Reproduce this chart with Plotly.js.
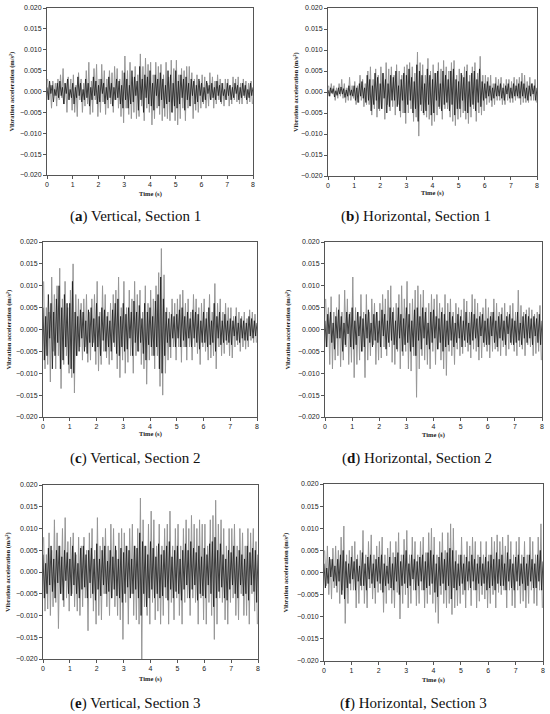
<!DOCTYPE html>
<html>
<head>
<meta charset="utf-8">
<script src="https://cdn.plot.ly/plotly-3.0.1.min.js"></script>
<style>
	body{margin:0;padding:0;background:#fff;}
	#myDiv{width:550px;height:714px;}
</style>
</head>
<body>
<div id="myDiv"></div>
<script>
// values, in 10^-3 m/s^2
// black = dense core, one value every 0.05 s from 0 s
// gray = outer peaks, one value every 0.05 s from 0.025 s
var blackA=[1,-2,2.5,-0.5,1.5,-2.5,0.5,-1,2,-1.5, 2.5,-1,1,-3,2,-0.5,3,-2,0.5,-1.5, 2,-3,1,-1.5,3.5,-1,2,-2.5,0.5,-2, 3,-1.5,2,-3.5,1,-2,3.5,-1,2.5,-3,
	1.5,-2.5,3,-0.5,2,-3,1,-2,3.5,-1.5, 2,-3.5,1,-2,3,-1.5,2.5,-3,1.5,-4, 4.5,-2,3,-4,1.5,-3,5,-2.5,3.5,-1, 2.5,-4.5,6,-2,3,-5,4,-1.5,3.5,-3,
	5,-3.5,2,-4.5,4,-1,3,-3.5,4.5,-2, 3,-4,1.5,-3,5,-2.5,4,-5,2,-3.5, 5,-4,2.5,-3,4,-1.5,3,-4.5,3.5,-2, 2,-3.5,3,-1,2.5,-3,1.5,-2.5,3,-1,
	2,-2.5,1,-2,2.5,-0.5,1.5,-2,2,-1.5, 1,-2,2.5,-1,1.5,-2.5,2,-1,0.5,-2, 2,-1,1.5,-2,1,-1.5,2,-0.5,1.5,-2, 1,-1.5,2,-1,1.5,-2,0.5,-1.5,2,-1, 1]
var grayA=[3,-2,1.5,-4,2.5,-1,2,-3.5,3,-2, 4,-1.5,5.5,-3,2,-5,3.5,-2,3,-4.5, 4,-5,1.5,-6,4.5,-2,3,-5,2,-3.5, 5,-3,7,-5.5,2.5,-5,5.5,-2,6.5,-6,
	3,-5,6.5,-2.5,5,-5.5,3,-4,5,-3, 4.5,-5,6,-2,5.5,-4,3,-6,5,-7.5, 8.5,-4,5,-5.5,7,-6.5,3.5,-5,6,-6.5, 4,-6,9,-3.5,6,-7,8,-4,6.5,-5,
	7,-8,4,-6.5,7,-4,6,-5.5,6.5,-7, 4,-6,7,-6.5,3.5,-7,7.5,-5,5.5,-7, 7.5,-8,4,-6.5,5.5,-4,5,-7,6,-4, 6,-3.5,4.5,-6.5,3,-4.5,4,-5,2.5,-4,
	4,-3,3.5,-4,2,-3.5,4.5,-2,3.5,-4, 2.5,-3,4,-2,3,-3,2,-3.5,3,-2, 3,-3.5,1.5,-3,3.5,-2,3,-2.5,3.5,-3, 2,-3,3,-1.5,2.5,-3,2,-2.5,2.5,-3]

var blackB=[0.5,-1,1,-0.3,0.8,-1.2,0.3,-0.8,1,-0.5, 1.2,-0.5,0.8,-1.3,0.5,-1,1.5,-0.8,0.5,-1, 1.5,-2,1,-2.5,2,-1,2.5,-1.5,1,-2.5, 4,-2,3,-4.5,1.5,-3,4.5,-2,3.5,-4,
	2,-4,4.5,-1.5,3,-5,2,-3.5,4,-2, 3.5,-2,5,-3.5,1.5,-4.5,3,-2,4.5,-5, 4,-3,5.5,-2,3.5,-5,2.5,-4,6.5,-7, 5,-3,4,-5,2,-4.5,5.5,-3,4,-5.5,
	3,-5,4.5,-2,5,-3.5,2,-4.5,5,-3, 4,-2.5,3,-4.5,5,-3,5.5,-5.5,3,-4, 2.5,-4,4.5,-2,3.5,-4.5,5,-5,2.5,-3.5, 4.5,-3,5,-4.5,3,-2.5,5.5,-3.5,2.5,-2,
	2,-1.5,2.5,-1,1.5,-2,1,-1.5,2,-1, 1.5,-1,2,-1.5,1,-2,1.5,-0.5,2,-1.5, 1,-1.5,2,-1,1.5,-1,2,-1.5,2.5,-1, 2,-1.5,1,-2,1.5,-1,2,-0.5,1.5,-2, 1]
var grayB=[1.5,-1,2,-0.5,1.5,-2,1,-1.5,2,-1, 3,-1.5,2,-2.5,1,-2,3.5,-2,1.5,-1.5, 2.5,-3,1.5,-2.5,4,-2,3,-3.5,2,-3, 5,-3,6,-5.5,3,-4,5.5,-6,4,-4.5,
	6,-4,4.5,-6.5,7,-3,5.5,-4.5,6,-3.5, 4,-5.5,6.5,-3,5,-6,4,-5,6,-7.5, 6.5,-5,7,-4,6,-7,4.5,-6,9.5,-10.5, 7,-4.5,6.5,-5.5,4,-6,8,-6.5,5,-8,
	6.5,-7,4.5,-5.5,7,-4,5.5,-6.5,7.5,-4, 6,-4,5,-6,7,-7,7.5,-8,4,-6.5, 5.5,-6,4,-5,6,-6.5,6.5,-7.5,4,-6, 6,-4,7,-7,4.5,-5,8.5,-5.5,4,-4.5,
	4,-3,3.5,-2.5,4,-3.5,2,-3,3.5,-2, 3,-2,3.5,-3,2,-3,3,-2,3,-2.5, 2.5,-2.5,3.5,-2,3,-1.5,3.5,-3,4.5,-2.5, 4,-2.5,2.5,-2.5,3.5,-2,2,-2,3,-2.5]

var blackC=[5,-7,3,-6,8,-2,6,-9,4,-6, 7,-3,10,-9,5,-7,8,-4,6,-8, 6,-9,11,-10,4,-6,3,-5,4.5,-2, 4,-5,2,-5.5,4.5,-3,5,-4,2.5,-5,
	6,-4,3,-6,5,-2.5,4.5,-5,3,-4, 2,-5,4.5,-3,6,-5.5,7,-6,3,-4, 6,-5,3.5,-4.5,5,-2,4,-6,6.5,-3, 4,-5,5.5,-3,2.5,-5.5,6,-7,4,-3.5,
	5,-4,3,-6,6.5,-4,8,-9,12,-10, 7,-6,4,-3,2.5,-4,3.5,-2,3,-4, 3.5,-2,4.5,-4,5,-2.5,3,-4,4,-2, 2.5,-4,4.5,-2,4,-3,3.5,-4.5,2,-3,
	4,-3,2.5,-4,5,-3.5,2,-3,6,-5, 3,-2,4,-3.5,2,-3,3.5,-2.5,2,-3, 2.5,-3.5,2,-1.5,3,-2.5,1.5,-3,2.5,-2, 2,-2.5,1.5,-2.5,3,-1.5,2.5,-2,2,-1.5, 1.5]
var grayC=[11,-9,5,-8,4,-12,12,-5,8,-9, 10,-6,14,-13.5,7,-8,11,-6,5,-10, 9,-11,15,-14.5,8,-6,7,-4,6,-7, 7,-4,8,-7.5,4,-7,7,-3,8,-8,
	11,-9.5,4,-8,10,-5,8,-6.5,4,-8, 6,-7,8,-4,9,-9,12,-11,5,-7, 11,-10,5,-7.5,9,-6,7,-10,11,-6, 8,-5,9,-8,4,-9,10,-12.5,6,-7,
	9,-6,7,-9,10,-6,13,-13,18.5,-15, 12.5,-10,5,-7,4,-6.5,7,-4,6,-7, 7,-4,8,-7.5,9,-4,6,-7,7,-4, 4,-7,8,-4,7,-5.5,5,-8,6,-4,
	7,-5,4,-7,8,-6.5,4,-6,10.5,-9, 6,-4,7,-6,4,-5.5,6,-3.5,5,-6, 5,-6.5,3,-4,5,-3.5,4,-5,3,-4, 4,-4.5,2.5,-4,4.5,-2.5,4,-3,3.5,-3]

var blackD=[2,-4,3.5,-1,4,-3,1.5,-4.5,3,-2, 4.5,-2,3,-5,1.5,-3.5,4,-1,3.5,-4, 5,-4.5,2,-3.5,4,-1.5,3,-5,2.5,-4, 3.5,-2,4.5,-3,1.5,-4,3.5,-2.5,4,-3,
	2,-4,4.5,-1.5,3.5,-4.5,2,-3,5,-2.5, 4,-3.5,2,-4.5,5,-2,3.5,-5,2.5,-3.5, 5,-3,3.5,-5,2,-4,4.5,-6,5,-2.5, 3,-4.5,5,-2,4,-3.5,1.5,-4.5,4,-3,
	4.5,-2,3,-4.5,2.5,-3,4,-5,3.5,-4, 2,-3.5,4,-2.5,3,-4,1.5,-3,3.5,-2, 3,-4,2,-2.5,4,-3,1.5,-3.5,4,-2.5, 3.5,-2,2.5,-4,3,-1.5,3.5,-3,2,-3.5,
	2.5,-3.5,3,-1.5,4,-3,2,-4,3,-2, 3.5,-2.5,2,-3.5,3,-1,3.5,-3,2.5,-3.5, 2,-3,4,-2.5,1.5,-3.5,3,-2,3.5,-3, 3,-2,2.5,-3.5,3,-1.5,2.5,-3,3.5,-3.5, 2]
var grayD=[7,-4,5,-8,7.5,-9,4,-7,5,-6, 8,-8.5,4,-7,9,-4,7,-8,4,-7.5, 12,-11,5,-8,4,-7,8,-5,4,-11, 8,-7,4,-6,7,-3.5,6,-8,4,-7,
	6,-6.5,8,-4,7,-6,9,-4,10,-7.5, 5,-8,6,-5,8,-9,10,-6,7,-5, 11,-9,6,-9.5,7,-6,9,-15.5,10,-9, 8,-6,9,-7,5,-8,6,-9,8,-5,
	7,-8,8,-4.5,6,-7,5,-9,8,-10.5, 6,-5,7,-6,4,-8,6,-4.5,5,-6, 4.5,-5.5,7,-4,6.5,-5,4,-6.5,8,-4.5, 7,-5,6,-7,4,-6.5,5,-4,7,-5,
	5,-6.5,4,-5,7,-4.5,6,-5,4,-6, 5,-4,6,-6,4,-4.5,5.5,-3.5,6,-5, 4,-6,9,-4,5.5,-4.5,4,-6,4.5,-3.5, 5,-4,4.5,-6,3.5,-5.5,4,-5,5.5,-7]

var blackE=[4,-6,2,-5,5.5,-3,6,-4.5,3,-6, 5,-2.5,6,-5,3.5,-6.5,5,-2,4.5,-5, 3,-5.5,6,-3,4.5,-5,2,-6,5.5,-4, 6,-3.5,4,-6,5,-2.5,5.5,-5,3,-6.5,
	6.5,-4,3,-5.5,5,-3,6,-5,2.5,-4.5, 5,-6,3.5,-4,6,-5.5,3,-6,5.5,-7, 4.5,-5,6,-3.5,5,-6,3,-5,6,-4, 5.5,-6,9,-10,7,-5,6,-8,4,-6,
	7,-4,5.5,-6,3.5,-5,6.5,-6,4,-5.5, 5,-3.5,6,-6.5,7,-4,3.5,-6,5,-4.5, 6,-5,3,-6.5,5,-4,6.5,-3,5,-6, 7,-4,5.5,-3,4.5,-6.5,6,-5,3.5,-5.5,
	5.5,-6,4,-3,6.5,-5,7,-8,8,-6, 5,-4.5,6.5,-3.5,4,-6,3,-6.5,5,-4, 4.5,-3,6,-5,3.5,-6,5,-3,4,-5.5, 3,-5,6,-6.5,4.5,-3,5.5,-4.5,5,-7, 4]
var grayE=[8,-9,4,-8.5,9,-10,5,-8,12,-7, 9,-13,6,-5,10,-8,12.5,-6,7,-9, 8,-5,9,-8,4,-9,8,-10,6,-8, 8,-6,5,-13.5,9,-6,10,-9,5,-12,
	12.5,-10,6,-11,8,-5,10,-8,6,-10, 11,-6,10,-8,5,-10,9,-11,10,-15.5, 9,-7,6,-12,10,-5,11,-10,6,-11, 10,-12,17,-20,12,-8,6,-10,11,-12,
	14,-7,12,-11,6,-9,11,-12,6,-10, 10,-6,11,-12,14,-7,6,-11,10,-6, 11,-10,6,-12,10,-7,12,-6,10,-10, 13,-6,11,-7,10,-12,12,-6,11,-11,
	11,-12,6,-7,12,-10,13,-15.5,16.5,-12, 11,-6,12,-7,10,-11,6,-12,10,-7, 10,-6,11,-10,6,-11,10,-5,9,-10, 6,-10,10,-12,9,-5,10,-9,7,-12]

var blackF=[2,-3.5,1,-2.5,3.5,-1,3,-2,1.5,-3, 3,-2,4,-5,5,-6,2.5,-3.5,2,-2.5, 3.5,-1.5,2.5,-4,3,-2,1.5,-3,4.5,-3, 2,-4,3.5,-1.5,4,-2.5,2,-3.5,3,-2,
	3.5,-2.5,4,-4.5,2,-3,1.5,-2.5,3.5,-3.5, 2,-4,3.5,-2,4.5,-5,2.5,-3,4,-2.5, 5,-3.5,2,-3,4,-1.5,3,-4,2.5,-3, 3.5,-2,4,-4,2.5,-3.5,4.5,-3,5,-2.5,
	4,-4.5,2,-5.5,3.5,-3,4.5,-2.5,3,-4, 4.5,-3,5.5,-6,5,-3.5,2.5,-4,2,-3, 4,-2.5,2,-4,3.5,-2,2.5,-3.5,4,-2, 3,-4,2,-2.5,3.5,-3,2,-2.5,3.5,-4,
	2.5,-3.5,4,-3,3,-4,4.5,-2.5,3,-3, 4,-3,2,-4,4.5,-2,3,-3.5,2,-4, 3.5,-2,4,-3,2,-2.5,3.5,-4,2,-3, 4,-2,3,-3.5,2,-3.5,4,-2,5,-4, 2.5]
var grayF=[5,-3,6,-5,3,-6,5.5,-3.5,6,-4.5, 5,-7,8,-4,10.5,-11.5,4,-7,5,-4, 6,-4,7,-8,4,-7,5,-4,9.5,-7, 4,-8,7,-3.5,8.5,-6,4,-7,6,-4.5,
	7,-4,8,-9,4,-7,5.5,-4,7,-7, 4.5,-8,7,-4.5,9,-10.5,4,-7,7.5,-5, 9.5,-8,4,-7,8,-4,7,-7.5,4,-7, 7,-4,8,-8,4.5,-7,9,-5,10,-7,
	8,-9,4,-11.5,7,-5,9,-7,5,-8, 9,-7,11,-9.5,10,-8,5,-7.5,4,-7, 8,-5,4,-8,7,-4,6,-7.5,8,-4, 7,-8,4,-6.5,7,-5,4,-6,7,-8,
	4,-7,8,-5,7,-8,8.5,-4.5,7,-5, 8,-4,6,-8,8.5,-4,7,-7.5,4,-8, 7,-4,8,-7,4,-6.5,7,-8,4,-7, 8,-4,7,-7,4,-7.5,8,-4,11,-8]

var xTicks=[0,1,2,3,4,5,6,7,8]
var yTicks=[-0.020,-0.015,-0.010,-0.005,0,0.005,0.010,0.015,0.020]
var captions=['(<b>a</b>) Vertical, Section 1','(<b>b</b>) Horizontal, Section 1',
	'(<b>c</b>) Vertical, Section 2','(<b>d</b>) Horizontal, Section 2',
	'(<b>e</b>) Vertical, Section 3','(<b>f</b>) Horizontal, Section 3']
var yTitle='Vibration acceleration (m/s²)'
var xTitle='Time (s)'

// pixel boxes of each panel: left, right, top, bottom, y-title x, caption x, caption y, time label y
var boxes=[
	[47,253,8,175, 12,135,216,194],
	[328,537,8,176, 296,416,216,193],
	[43,257,242,417, 8,135,458,434],
	[325,542,242,417, 287,417,458,435],
	[43,258,485,659, 8,135,703,679],
	[324,543,484,661, 285,413,703,680]
]

var W=550, H=714

function toSeries(vals,t0,dt){
	xs=[]
	ys=[]
	for (i=0;i<vals.length;i++){
		xs.push(t0+i*dt)
		ys.push(vals[i]/1000)
	}
	return [xs,ys]
}

function drawAll(){
	var grays=[grayA,grayB,grayC,grayD,grayE,grayF]
	var blacks=[blackA,blackB,blackC,blackD,blackE,blackF]
	var data=[]
	var titleFont={family:'Liberation Serif, Times New Roman',size:6.5,color:'#222',weight:'bold'}
	var layout={
		width:W,height:H,
		margin:{l:0,r:0,t:0,b:0},
		paper_bgcolor:'white',
		plot_bgcolor:'white',
		showlegend:false,
		hovermode:false,
		annotations:[]
	}
	for (p=0;p<6;p++){
		var b=boxes[p]
		var n=p+1
		var xa=n==1?'x':'x'+n
		var ya=n==1?'y':'y'+n
		var g=toSeries(grays[p],0.025,0.05)
		var k=toSeries(blacks[p],0,0.05)
		data.push({x:g[0],y:g[1],xaxis:xa,yaxis:ya,type:'scatter',mode:'lines',
			line:{color:'rgb(150,150,150)',width:1}})
		data.push({x:k[0],y:k[1],xaxis:xa,yaxis:ya,type:'scatter',mode:'lines',
			line:{color:'rgb(25,25,25)',width:0.8}})

		layout['xaxis'+(n==1?'':n)]={
			domain:[b[0]/W,b[1]/W],anchor:ya,range:[0,8],
			tickvals:xTicks,ticks:'outside',ticklen:3,tickcolor:'#555',
			showline:true,linecolor:'#555',linewidth:1,mirror:true,
			showgrid:false,zeroline:false,
			tickfont:{family:'Liberation Sans, Arial',size:7,color:'#222'}
		}
		layout['yaxis'+(n==1?'':n)]={
			domain:[1-b[3]/H,1-b[2]/H],anchor:xa,range:[-0.02,0.02],
			tickvals:yTicks,tickformat:'.3f',ticks:'outside',ticklen:3,tickcolor:'#555',
			showline:true,linecolor:'#555',linewidth:1,mirror:true,
			showgrid:false,zeroline:false,
			tickfont:{family:'Liberation Sans, Arial',size:7,color:'#222'}
		}
		// axis titles and captions
		layout.annotations.push({text:yTitle,textangle:-90,xref:'paper',yref:'paper',
			x:b[4]/W,y:1-(b[2]+b[3])/2/H,showarrow:false,xanchor:'center',yanchor:'middle',
			font:titleFont})
		layout.annotations.push({text:xTitle,xref:'paper',yref:'paper',
			x:(b[0]+b[1])/2/W,y:1-b[7]/H,showarrow:false,xanchor:'center',yanchor:'middle',
			font:titleFont})
		layout.annotations.push({text:captions[p],xref:'paper',yref:'paper',
			x:b[5]/W,y:1-b[6]/H,showarrow:false,xanchor:'center',yanchor:'middle',
			font:{family:'Liberation Serif, Times New Roman',size:15,color:'#111'}})
	}
	Plotly.newPlot('myDiv',data,layout,{staticPlot:true,displayModeBar:false})
}

drawAll()
</script>
</body>
</html>
